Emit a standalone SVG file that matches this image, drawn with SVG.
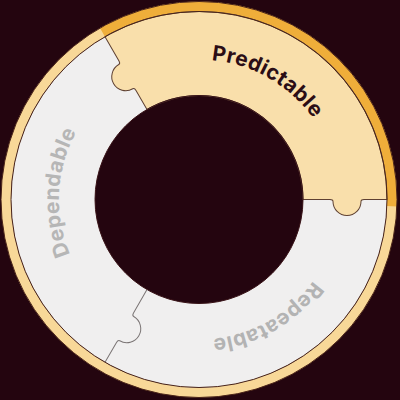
<svg xmlns="http://www.w3.org/2000/svg" width="400" height="400" viewBox="0 0 400 400">
  <style>
    .lbl { font-family: Inter, "Open Sans", "Liberation Sans", sans-serif; font-weight: 700; font-size: 21px; letter-spacing: 0.4px; }
    .seam { fill: none; stroke-width: 1; stroke-linejoin: round; }
  </style>
  <defs>
    <path id="arcP" d="M91.75,109.51 A140,140 0 0 1 330.56,247.38"/>
    <path id="arcR" d="M330.56,151.62 A140,140 0 0 1 91.75,289.49"/>
    <path id="arcD" d="M167.51,335.91 A140,140 0 0 1 181.94,60.54"/>
  </defs>
  <rect width="400" height="400" fill="#24050f"/>

  <g id="rim">
    <circle cx="199" cy="199.5" r="193" fill="none" stroke="#f8d898" stroke-width="10"/>
    <path d="M102.5,32.36 A193,193 0 0 1 391.88,206.24" fill="none" stroke="#efae3a" stroke-width="10"/>
    <circle cx="199" cy="199.5" r="198" fill="none" stroke="#4a2418" stroke-width="1"/>
  </g>

  <g id="dependable-repeatable-base">
    <path d="M199,11.5 A188,188 0 1 1 198.99,11.5 Z M199,95.5 A104,104 0 1 0 199.01,95.5 Z" fill="#f0efef" fill-rule="evenodd"/>
  </g>

  <g id="predictable">
    <path transform="translate(199,199.5) rotate(240)" fill="#f9dfab" stroke="#5e4032" stroke-width="1" stroke-linejoin="round"
      d="M104,0 L126,0 Q129,0 129,-2 A14,14 0 0 1 157,-2 Q157,0 160,0 L188,0 A188,188 0 0 1 -94,162.81 L-82.5,142.89 Q-81,140.30 -82.73,139.30 A14,14 0 0 1 -68.73,115.05 Q-67,116.05 -65.5,113.45 L-52,90.07 A104,104 0 0 0 104,0 Z"/>
    <text class="lbl" fill="#2b0d15"><textPath href="#arcP" startOffset="50%" text-anchor="middle">Predictable</textPath></text>
  </g>

  <g id="repeatable">
    <text class="lbl" fill="#b3b3b3"><textPath href="#arcR" startOffset="50%" text-anchor="middle">Repeatable</textPath></text>
  </g>

  <g id="dependable">
    <text class="lbl" fill="#b6b6b6"><textPath href="#arcD" startOffset="50%" text-anchor="middle">Dependable</textPath></text>
  </g>

  <g id="connectors">
    <path class="seam" stroke="#7a7474" transform="translate(199,199.5) rotate(120)"
      d="M104,0 L131,0 Q134,0 134,-2 A14,14 0 0 1 162,-2 Q162,0 165,0 L188,0"/>
    <circle cx="199" cy="199.5" r="188" fill="none" stroke="#4a2418" stroke-width="1"/>
    <circle cx="199" cy="199.5" r="104" fill="none" stroke="#3a1418" stroke-width="1"/>
  </g>
</svg>
